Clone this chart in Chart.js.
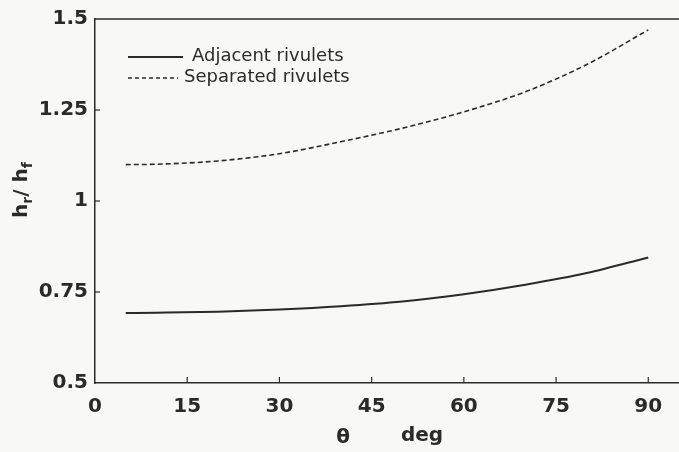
<!DOCTYPE html>
<html lang="en">
<head>
    <meta charset="UTF-8">
    <title>Rivulet thickness ratio</title>
    <script src="https://cdn.jsdelivr.net/npm/chart.js"></script>
    <style>
        body {
            margin: 0;
            padding: 0;
            background-color: #f8f8f6;
        }
        .container {
            width: 679px;
            height: 452px;
            position: relative;
        }
    </style>
</head>
<body>
    <div class="container">
        <canvas id="rivuletChart"></canvas>
    </div>

    <script>
        // angle (deg) and thickness ratio
        const angles = [5, 10, 20, 30, 40, 50, 60, 70, 80, 90];
        const adjacent = [0.692, 0.693, 0.696, 0.702, 0.711, 0.724, 0.744, 0.77, 0.802, 0.845];
        const separated = [1.100, 1.101, 1.110, 1.130, 1.163, 1.200, 1.245, 1.300, 1.375, 1.470];
        const xTicks = [0, 15, 30, 45, 60, 75, 90];
        const yTicks = [0.5, 0.75, 1, 1.25, 1.5];

        const ink = '#2a2a2a';
        const labelFont = { family: 'DejaVu Sans', size: 20, weight: 'bold' };

        // inward tick marks, top frame, legend and axis titles
        const decorations = {
            id: 'decorations',
            afterDraw(chart) {
                const ctx = chart.ctx;
                const area = chart.chartArea;
                const xs = chart.scales.x;
                const ys = chart.scales.y;
                ctx.save();
                ctx.strokeStyle = ink;
                ctx.lineWidth = 1.5;

                // top frame line
                ctx.beginPath();
                ctx.moveTo(area.left, area.top);
                ctx.lineTo(area.right, area.top);
                ctx.stroke();

                ctx.lineWidth = 1.2;
                xTicks.slice(1).forEach(v => {
                    const px = xs.getPixelForValue(v);
                    ctx.beginPath();
                    ctx.moveTo(px, area.bottom);
                    ctx.lineTo(px, area.bottom - 6);
                    ctx.stroke();
                });
                yTicks.slice(1, -1).forEach(v => {
                    const py = ys.getPixelForValue(v);
                    ctx.beginPath();
                    ctx.moveTo(area.left, py);
                    ctx.lineTo(area.left + 5, py);
                    ctx.stroke();
                });

                // legend
                ctx.fillStyle = ink;
                ctx.font = '18px "DejaVu Sans"';
                ctx.textBaseline = 'middle';
                ctx.lineWidth = 2;
                ctx.beginPath();
                ctx.moveTo(128, 57);
                ctx.lineTo(183, 57);
                ctx.stroke();
                ctx.fillText('Adjacent rivulets', 192, 56);
                ctx.lineWidth = 1.5;
                ctx.setLineDash([4, 3]);
                ctx.beginPath();
                ctx.moveTo(128, 78);
                ctx.lineTo(178, 78);
                ctx.stroke();
                ctx.setLineDash([]);
                ctx.fillText('Separated rivulets', 184, 77);

                // x title
                ctx.font = 'bold 20px "DejaVu Sans"';
                ctx.textAlign = 'center';
                ctx.fillText('θ', 343, 438);
                ctx.fillText('deg', 422, 436);

                // y title h_r / h_f, rotated
                ctx.translate(22, 180);
                ctx.rotate(-Math.PI / 2);
                ctx.textAlign = 'left';
                let x = -38;
                const part = (t, size, dy) => {
                    ctx.font = 'bold ' + size + 'px "DejaVu Sans"';
                    ctx.fillText(t, x, dy);
                    x += ctx.measureText(t).width;
                };
                part('h', 20, 0);
                part('r', 14, 6);
                part('/ h', 20, 0);
                part('f', 14, 6);
                ctx.restore();
            }
        };

        new Chart(document.getElementById('rivuletChart'), {
            type: 'line',
            data: {
                datasets: [{
                    label: 'Adjacent rivulets',
                    data: angles.map((a, i) => ({ x: a, y: adjacent[i] })),
                    borderColor: ink,
                    borderWidth: 2,
                    pointRadius: 0,
                    cubicInterpolationMode: 'monotone'
                }, {
                    label: 'Separated rivulets',
                    data: angles.map((a, i) => ({ x: a, y: separated[i] })),
                    borderColor: ink,
                    borderWidth: 1.6,
                    borderDash: [5, 3],
                    pointRadius: 0,
                    cubicInterpolationMode: 'monotone'
                }]
            },
            options: {
                responsive: true,
                maintainAspectRatio: false,
                animation: false,
                layout: { padding: { top: 13, right: 0, left: 0, bottom: 0 } },
                plugins: {
                    legend: { display: false },
                    tooltip: { enabled: false }
                },
                scales: {
                    x: {
                        type: 'linear',
                        min: 0,
                        max: 95,
                        afterFit: s => { s.height = 69; },
                        afterBuildTicks: s => { s.ticks = xTicks.map(v => ({ value: v })); },
                        grid: { display: false, drawTicks: false },
                        border: { display: true, color: ink, width: 1.5 },
                        ticks: {
                            color: ink,
                            font: labelFont,
                            padding: 12,
                            maxRotation: 0,
                            callback: v => String(v)
                        }
                    },
                    y: {
                        min: 0.5,
                        max: 1.5,
                        afterFit: s => { s.width = 95; },
                        afterBuildTicks: s => { s.ticks = yTicks.map(v => ({ value: v })); },
                        grid: { display: false, drawTicks: false },
                        border: { display: true, color: ink, width: 1.5 },
                        ticks: {
                            color: ink,
                            font: labelFont,
                            padding: 7,
                            callback: v => String(v)
                        }
                    }
                }
            },
            plugins: [decorations]
        });
    </script>
</body>
</html>
